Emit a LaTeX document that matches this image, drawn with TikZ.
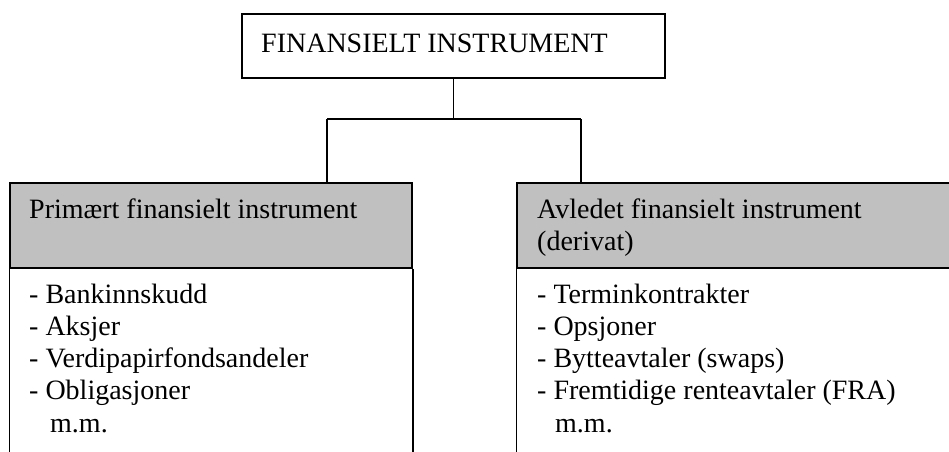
\documentclass[tikz,border=0pt]{standalone}
\usepackage{fontspec}
\setmainfont{Liberation Serif}
\definecolor{hdrgray}{HTML}{C0C0C0}
\tikzset{
  boxline/.style={draw=black, line width=1.5pt},
  txt/.style={anchor=base west, inner sep=0pt, font=\fontsize{28}{32.2}\selectfont, align=left},
  hdrbox/.style={boxline, fill=hdrgray, inner sep=0pt},
}
\begin{document}
\begin{tikzpicture}[x=1pt, y=-1pt]
\useasboundingbox (0,0) rectangle (949,451);
\clip (0,0) rectangle (949,451);
\fill[white] (0,0) rectangle (949,451);
% top box
\node[boxline, minimum width=423pt, minimum height=64pt, inner sep=0pt] (top) at (453.5,46) {};
\node[txt] (toptxt) at (261,52) {FINANSIELT INSTRUMENT};
% headers
\node[hdrbox, minimum width=402pt, minimum height=85pt] (lhead) at (211,225.5) {};
\node[hdrbox, minimum width=450pt, minimum height=85pt] (rhead) at (742,225.5) {};
% (base anchor of a multi-line node = baseline of its last line)
\node[txt] (ltitle) at (29,218) {Primært finansielt instrument};
\node[txt] (rtitle) at (537,250.2) {Avledet finansielt instrument\\(derivat)};
% bodies
\draw[boxline] (lhead.south west) -- ++(0,190);
\draw[boxline] (lhead.south east) -- ++(0,190);
\draw[boxline] (rhead.south west) -- ++(0,190);
\node[txt] (lbody) at (29,432) {- Bankinnskudd\\- Aksjer\\- Verdipapirfondsandeler\\- Obligasjoner\\\hspace*{21pt}m.m.};
\node[txt] (rbody) at (537,432) {- Terminkontrakter\\- Opsjoner\\- Bytteavtaler (swaps)\\- Fremtidige renteavtaler (FRA)\\\hspace*{18pt}m.m.};
% connectors
\coordinate (j) at (453.5,119);
\coordinate (lj) at (327,119);
\coordinate (rj) at (581,119);
\draw[boxline] (top.south) -- (j);
\draw[boxline] (lj) -- (rj);
\draw[boxline] (lj) -- (lj |- lhead.north);
\draw[boxline] (rj) -- (rj |- rhead.north);
\end{tikzpicture}
\end{document}
